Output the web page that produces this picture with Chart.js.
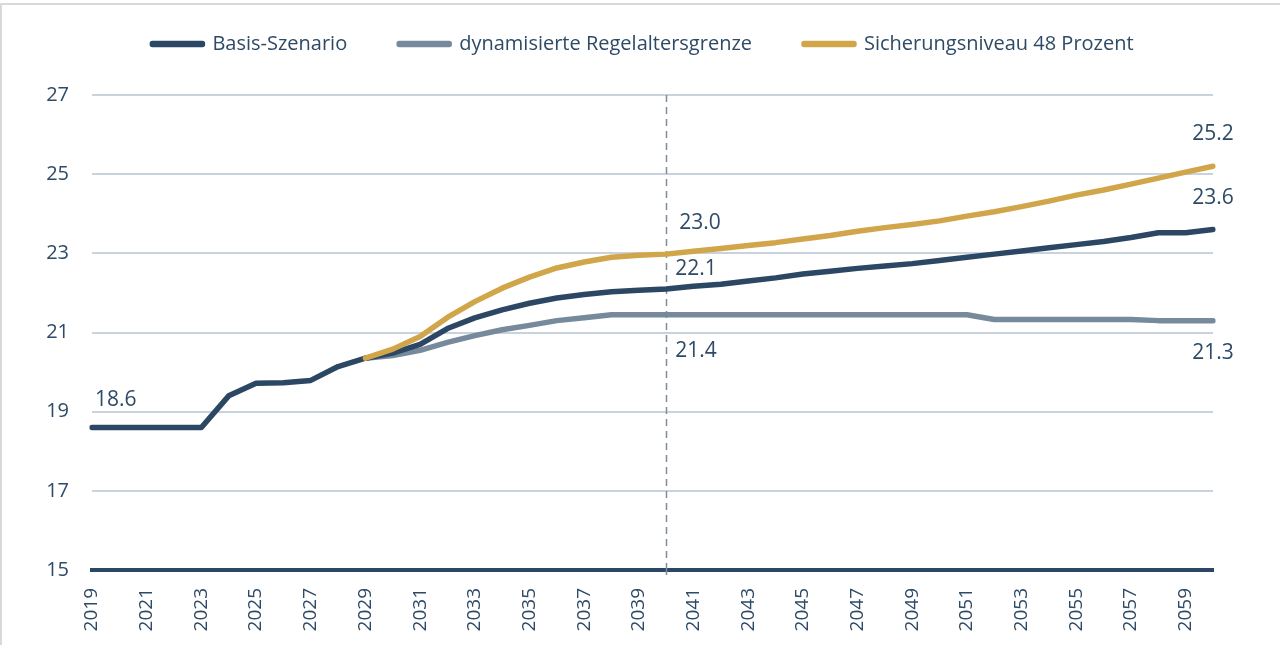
<!DOCTYPE html>
<html>
<head>
<meta charset="utf-8">
<script src="https://cdn.jsdelivr.net/npm/chart.js@4/dist/chart.umd.min.js"></script>
<style>
  html, body { margin: 0; padding: 0; background: #fff; }
  #wrap { width: 1280px; height: 645px; }
</style>
</head>
<body>
<div id="wrap"><canvas id="myChart" width="1280" height="645"></canvas></div>
<script>
var years = [];
for (var y = 2019; y <= 2060; y++) years.push(String(y));

var basis = [18.6, 18.6, 18.6, 18.6, 18.6, 19.4, 19.72, 19.73, 19.79, 20.14,
  20.35, 20.48, 20.7, 21.1, 21.37, 21.57, 21.74, 21.87, 21.96, 22.03,
  22.07, 22.1, 22.17, 22.22, 22.3, 22.38, 22.48, 22.55, 22.62, 22.68,
  22.74, 22.82, 22.9, 22.98, 23.06, 23.14, 23.22, 23.3, 23.4, 23.52,
  23.52, 23.6];

var regelalter = [null, null, null, null, null, null, null, null, null, null,
  20.35, 20.42, 20.55, 20.75, 20.92, 21.07, 21.18, 21.3, 21.37, 21.45,
  21.45, 21.45, 21.45, 21.45, 21.45, 21.45, 21.45, 21.45, 21.45, 21.45,
  21.45, 21.45, 21.45, 21.33, 21.33, 21.33, 21.33, 21.33, 21.33, 21.3,
  21.3, 21.3];

var sicherung = [null, null, null, null, null, null, null, null, null, null,
  20.35, 20.58, 20.9, 21.38, 21.78, 22.12, 22.4, 22.63, 22.78, 22.9,
  22.95, 22.98, 23.05, 23.12, 23.2, 23.27, 23.36, 23.45, 23.56, 23.65,
  23.73, 23.82, 23.94, 24.05, 24.18, 24.32, 24.47, 24.6, 24.75, 24.9,
  25.05, 25.2];

var seriesNames = ["Basis-Szenario", "dynamisierte Regelaltersgrenze", "Sicherungsniveau 48 Prozent"];
var lineColors = ["#2C4763", "#768A9C", "#D1A64A"];
var textColor = "#2E4A66";
var fontFam = "'Open Sans', 'Noto Sans', sans-serif";
var markYear = "2040";

// value labels: [dataset, year, text, dx, dy, align]
var valueLabels = [
  [0, "2019", "18.6", 3, -27, "left"],
  [2, "2040", "23.0", 13, -31, "left"],
  [0, "2040", "22.1", 9, -20, "left"],
  [1, "2040", "21.4", 9, 36, "left"],
  [2, "2060", "25.2", 0, -32, "center"],
  [0, "2060", "23.6", 0, -32, "center"],
  [1, "2060", "21.3", 0, 32, "center"]
];
var seriesData = [basis, regelalter, sicherung];

var frame = {
  id: "frame",
  beforeInit: function(chart) {
    // stretch the legend box down so the plot starts where the original does
    var lg = chart.legend;
    if (lg) {
      var fit = lg.fit;
      lg.fit = function() {
        fit.call(this);
        this.height = 113;
      };
    }
  },
  beforeDraw: function(chart) {
    var c = chart.ctx;
    c.save();
    c.fillStyle = "#fff";
    c.fillRect(0, 0, chart.width, chart.height);
    c.strokeStyle = "#D9D9D9";
    c.lineWidth = 2;
    c.beginPath();
    c.moveTo(1, chart.height);
    c.lineTo(1, 4);
    c.lineTo(chart.width, 4);
    c.stroke();
    c.restore();
  }
};

var markerLine = {
  id: "markerLine",
  beforeDatasetsDraw: function(chart) {
    var c = chart.ctx, xs = chart.scales.x, ys = chart.scales.y;
    var px = Math.round(xs.getPixelForValue(years.indexOf(markYear))) + 0.5;
    c.save();
    c.strokeStyle = "#7F8D9B";
    c.lineWidth = 1.5;
    c.setLineDash([7, 5]);
    c.beginPath();
    c.moveTo(px, ys.top);
    c.lineTo(px, ys.bottom);
    c.stroke();
    c.setLineDash([]);
    c.beginPath();
    c.moveTo(px, ys.bottom);
    c.lineTo(px, ys.bottom + 5);
    c.stroke();
    c.restore();
  }
};

var valueText = {
  id: "valueText",
  afterDatasetsDraw: function(chart) {
    var c = chart.ctx, xs = chart.scales.x, ys = chart.scales.y;
    c.save();
    c.fillStyle = textColor;
    c.font = "21px " + fontFam;
    c.textBaseline = "middle";
    valueLabels.forEach(function(l) {
      var i = years.indexOf(l[1]);
      var v = seriesData[l[0]][i];
      c.textAlign = l[5];
      c.fillText(l[2], xs.getPixelForValue(i) + l[3], ys.getPixelForValue(v) + l[4]);
    });
    c.restore();
  }
};

new Chart("myChart", {
  type: "line",
  data: {
    labels: years,
    datasets: seriesNames.map(function(n, k) {
      return {
        label: n,
        data: seriesData[k],
        borderColor: lineColors[k],
        backgroundColor: lineColors[k],
        borderWidth: 5.5,
        pointRadius: 0,
        tension: 0,
        borderCapStyle: "round",
        borderJoinStyle: "round",
        order: [1, 2, 0][k]
      };
    })
  },
  options: {
    responsive: false,
    animation: false,
    layout: { padding: { left: 6, right: 0, top: -18, bottom: 0 } },
    plugins: {
      legend: {
        display: true,
        position: "top",
        labels: {
          color: textColor,
          font: { size: 20, family: fontFam },
          boxWidth: 50,
          boxHeight: 1,
          padding: 52,
          sort: function(a, b) { return a.datasetIndex - b.datasetIndex; }
        }
      },
      tooltip: { enabled: false }
    },
    scales: {
      x: {
        grid: { display: false, drawTicks: false },
        border: { display: true, color: "#2C4763", width: 4 },
        afterFit: function(s) { s.height = 75; },
        ticks: {
          autoSkip: false,
          maxRotation: 90,
          minRotation: 90,
          padding: 18,
          color: textColor,
          font: { size: 19, family: fontFam },
          callback: function(v, i) { return i % 2 === 0 ? years[i] : ""; }
        }
      },
      y: {
        min: 15,
        max: 27,
        afterFit: function(s) { s.width = 86; },
        border: { display: false },
        grid: { color: "#C8D3DE", lineWidth: 2, drawTicks: false },
        ticks: {
          stepSize: 2,
          padding: 23,
          color: textColor,
          font: { size: 20, family: fontFam }
        }
      },
      yRight: {
        position: "right",
        min: 15,
        max: 27,
        afterFit: function(s) { s.width = 67; },
        border: { display: false },
        grid: { display: false, drawTicks: false },
        ticks: { display: false }
      }
    }
  },
  plugins: [frame, markerLine, valueText]
});
</script>
</body>
</html>
